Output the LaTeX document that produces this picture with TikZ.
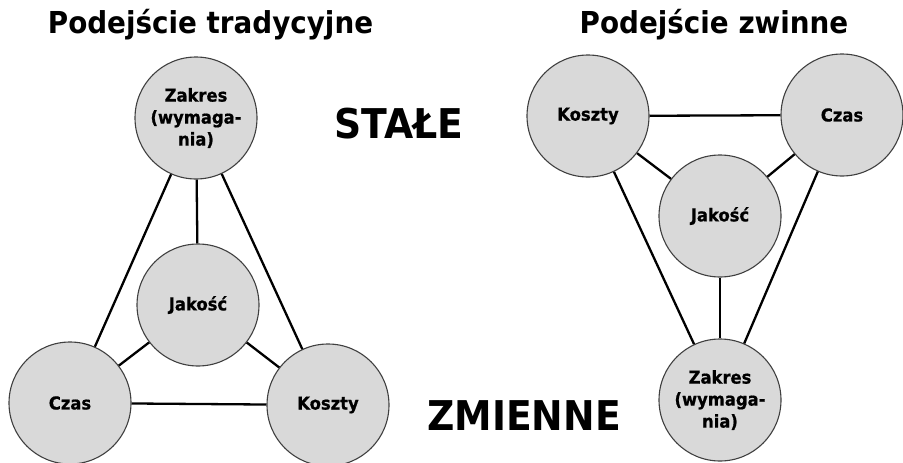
\documentclass[tikz,border=0pt]{standalone}
\usepackage{fontspec}
\setmainfont{DejaVu Sans}[FakeStretch=0.92]
\newfontfamily\cfont{DejaVu Sans}[FakeStretch=0.92,BoldFeatures={FakeBold=0.8}]
\begin{document}
\begin{tikzpicture}[x=1pt,y=-1pt,
  circ/.style={circle,draw=black!75,line width=1.1pt,fill=black!15,minimum size=122pt,inner sep=0pt,align=center,
    font=\cfont\bfseries\fontsize{17.8}{22}\selectfont},
  conn/.style={line width=2.3pt,black},
  title/.style={anchor=base,font=\bfseries\fontsize{30.2}{36}\selectfont},
  big/.style={anchor=base,font=\bfseries\fontsize{41}{48}\selectfont}]
\path[use as bounding box] (0,0) rectangle (903,463);
% left: traditional
\node[circ] (lz) at (196,118) {Zakres\\(wymaga-\\nia)};
\node[circ] (lj) at (198,305) {Jakość};
\node[circ] (lc) at (70,403) {Czas};
\node[circ] (lk) at (328,405) {Koszty};
% right: agile
\node[circ] (rk) at (588,116) {Koszty};
\node[circ] (rc) at (842,115) {Czas};
\node[circ] (rj) at (720,216) {Jakość};
\node[circ] (rz) at (720,400) {Zakres\\(wymaga-\\nia)};
\draw[conn] (lz) -- (lc);
\draw[conn] (lz) -- (lk);
\draw[conn] (lz) -- (lj);
\draw[conn] (lj) -- (lc);
\draw[conn] (lj) -- (lk);
\draw[conn] (lc) -- (lk);
\draw[conn] (rk) -- (rc);
\draw[conn] (rk) -- (rj);
\draw[conn] (rc) -- (rj);
\draw[conn] (rk) -- (rz);
\draw[conn] (rc) -- (rz);
\draw[conn] (rj) -- (rz);
\node[title] (t1) at (210.5,33) {Podejście tradycyjne};
\node[title] (t2) at (714,33) {Podejście zwinne};
\node[big] (st) at (399,138) {STAŁE};
\node[big] (zm) at (524,430) {ZMIENNE};
\end{tikzpicture}
\end{document}
